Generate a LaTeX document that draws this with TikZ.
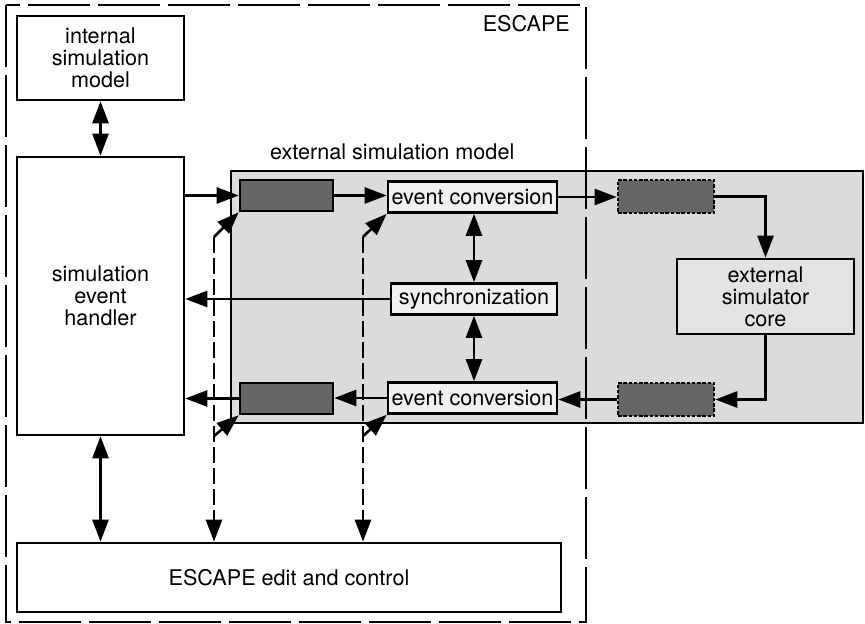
\documentclass[tikz,border=0pt]{standalone}
\usepackage{fontspec}
\setmainfont{TeX Gyre Heros}
\usetikzlibrary{arrows.meta}
\begin{document}
\begin{tikzpicture}[
  x=0.02cm, y=-0.02cm,
  line width=1.5pt,
  >={Triangle[length=4.4mm,width=3.2mm]},
  every node/.style={font=\fontsize{12.3}{12.5}\selectfont},
  bnode/.style={draw, fill=white, align=center, inner sep=1pt},
  qnode/.style={draw, fill=black!60, minimum width=1.86cm, minimum height=0.62cm},
  xqnode/.style={draw, dash pattern=on 2pt off 1pt, fill=black!60, minimum width=1.92cm, minimum height=0.66cm},
  cnode/.style={draw, fill=gray!12, minimum width=3.38cm, minimum height=0.62cm, inner sep=1pt, align=center},
  ctl/.style={dash pattern=on 0.32cm off 0.1cm}
]
  \useasboundingbox (0,0) rectangle (865,624);
  % external model area
  \node[draw, fill=gray!28, minimum width=12.64cm, minimum height=5.04cm] (ext) at (547,297) {};
  \node[anchor=base west] (extlbl) at (263,160) {external simulation model};
  % ESCAPE frame
  \draw[dash pattern=on 1.24cm off 0.16cm] (6,5) rectangle (586,622);
  \node[anchor=base east] (esc) at (577,32) {ESCAPE};

  \node[bnode, minimum width=3.34cm, minimum height=1.68cm] (ism) at (100.5,58) {internal\\simulation\\model};
  \node[bnode, minimum width=3.34cm, minimum height=5.56cm] (seh) at (100.5,296) {simulation\\event\\handler};
  \node[bnode, minimum width=10.88cm, minimum height=1.38cm] (edit) at (289,577.5) {ESCAPE edit and control};

  \node[qnode] (q1) at (286.5,195.5) {};
  \node[qnode] (q2) at (286.5,398.5) {};
  \node[cnode] (ec1) at (472.5,197) {event conversion};
  \node[cnode, minimum width=3.32cm] (sync) at (474,299) {synchronization};
  \node[cnode] (ec2) at (472.5,398) {event conversion};
  \node[xqnode] (q3) at (666,196.5) {};
  \node[xqnode] (q4) at (666,399.5) {};
  \node[cnode, fill=gray!22, minimum width=3.54cm, minimum height=1.5cm] (core) at (765.5,296.5) {external\\simulator\\core};

  \coordinate (d1) at (214,237);
  \coordinate (d2) at (214,436);
  \coordinate (d3) at (363,237);
  \coordinate (d4) at (363,436);

  \draw[<->] (ism) -- (seh);
  \draw[<->] (seh.south) -- (seh.south |- edit.north);
  \draw[->] (seh.east |- q1) -- (q1.west);
  \draw[->] (sync.west) -- (sync.west -| seh.east);
  \draw[->] (q2.west) -- (q2.west -| seh.east);
  \draw[->] (q1.east) -- (q1.east -| ec1.west);
  \draw[<->] (sync.north |- ec1.south) -- (sync.north);
  \draw[<->] (sync.south) -- (sync.south |- ec2.north);
  \draw[->] (ec1.east) -- (ec1.east -| q3.west);
  \draw[->] (q3.east) -| (core.north);
  \draw[->] (core.south) |- (q4.east);
  \draw[->] (q4.west) -- (q4.west -| ec2.east);
  \draw[->] (ec2.west) -- (ec2.west -| q2.east);
  % control lines
  \draw[->, ctl] (d1) -- (d1 |- edit.north);
  \draw[->, ctl] (d3) -- (d3 |- edit.north);
  \draw[->] (d1) -- (q1.south west);
  \draw[->] (d2) -- (q2.south west);
  \draw[->] (d3) -- (ec1.south west);
  \draw[->] (d4) -- (ec2.south west);
\end{tikzpicture}
\end{document}
